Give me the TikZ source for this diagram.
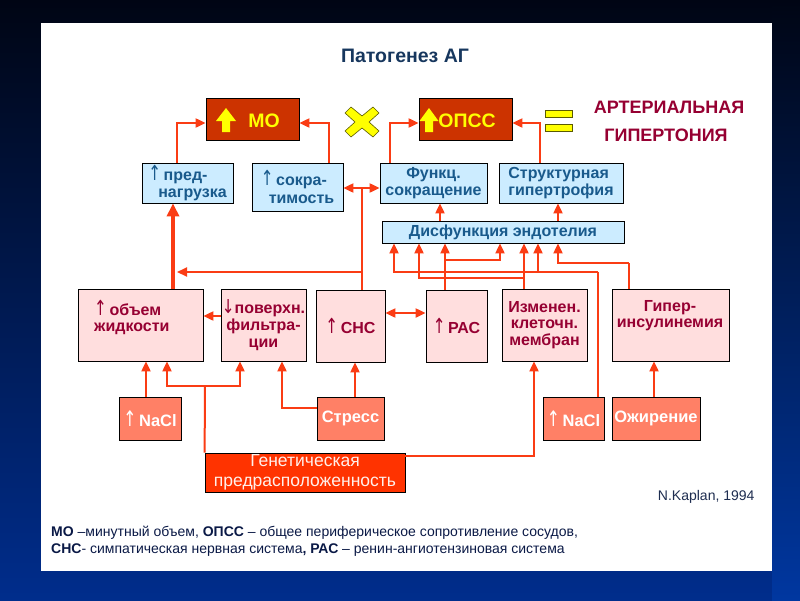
\documentclass[tikz,border=0pt]{standalone}
\usepackage{graphicx}
\usepackage{fontspec}
\setmainfont{Liberation Sans}
\newfontfamily\arrfont{DejaVu Sans}
\newcommand{\uparr}{{\mdseries\arrfont\scalebox{0.95}[1.3]{↑}}}
\newcommand{\dnarr}{{\mdseries\arrfont\scalebox{0.95}[1.2]{↓}}}
\usetikzlibrary{arrows.meta}
\definecolor{cr}{RGB}{250,60,20}
\definecolor{mored}{RGB}{204,51,0}
\definecolor{yel}{RGB}{255,255,0}
\definecolor{lblue}{RGB}{204,236,255}
\definecolor{btext}{RGB}{25,90,140}
\definecolor{pinkf}{RGB}{255,222,222}
\definecolor{ptext}{RGB}{150,0,50}
\definecolor{salmon}{RGB}{255,128,102}
\definecolor{genred}{RGB}{255,51,0}
\definecolor{titleblue}{RGB}{23,55,94}
\definecolor{foottext}{RGB}{10,25,70}
\definecolor{bgtop}{RGB}{0,5,20}
\definecolor{bgbot}{RGB}{0,45,140}
\begin{document}
\begin{tikzpicture}[x=1pt,y=-1pt,
  conn/.style={draw=cr, line width=2pt},
  arr/.style={conn, -{Triangle[length=10pt,width=9pt]}},
  tharr/.style={draw=cr, line width=3.5pt, -{Triangle[length=13pt,width=12pt]}},
  darr/.style={conn, {Triangle[length=10pt,width=9pt]}-{Triangle[length=10pt,width=9pt]}},
  bbox/.style={draw=black, line width=0.8pt, fill=lblue, inner sep=0pt, text=btext,
    font=\fontsize{16}{17.5}\selectfont\bfseries},
  pbox/.style={draw=black, line width=0.8pt, fill=pinkf, inner sep=0pt, text=ptext,
    font=\fontsize{16}{16.5}\selectfont\bfseries, align=center},
  ptxt/.style={text=ptext, font=\fontsize{16}{16}\selectfont\bfseries, inner sep=0pt},
  sbox/.style={draw=black, line width=0.8pt, fill=salmon, inner sep=0pt, text=white,
    font=\fontsize{16.5}{18}\selectfont\bfseries},
  rbox/.style={draw=black, line width=0.8pt, fill=mored, inner sep=0pt},
  ytxt/.style={text=yel, font=\fontsize{19.5}{20}\selectfont\bfseries, inner sep=0pt}
]
\useasboundingbox (0,0) rectangle (800,600);
% background
\shade[top color=bgtop, bottom color=bgbot] (0,0) rectangle (800,600);
\shade[top color=bgtop, bottom color={rgb,255:red,0;green,55;blue,160}] (772,0) rectangle (800,600);
\fill[white] (41,23) rectangle (772,571);

% title
\node[font=\fontsize{19.5}{22}\selectfont\bfseries, text=titleblue] (title) at (405,56) {Патогенез АГ};

% top row
\node[rbox, minimum width=93pt, minimum height=42pt] (mo) at (252.5,119) {};
\node[rbox, minimum width=93pt, minimum height=42pt] (opss) at (465.5,119) {};
\fill[yel] (222,132) -- (222,121) -- (216,121) -- (226,108) -- (236,121) -- (230,121) -- (230,132) -- cycle;
\node[ytxt] (mot) at (264,121) {МО};
\fill[yel] (425,132) -- (425,121) -- (419.5,121) -- (429,108) -- (438.5,121) -- (433,121) -- (433,132) -- cycle;
\node[ytxt] (opsst) at (467,121) {ОПСС};

% multiply sign
\filldraw[fill=yel, draw={rgb,255:red,90;green,90;blue,0}, line width=0.6pt]
  (345,113) -- (351,107) -- (362,116) -- (373,107) -- (379,113) -- (369,122)
  -- (379,131) -- (373,137) -- (362,128) -- (351,137) -- (345,131) -- (355,122) -- cycle;
% equals sign
\filldraw[fill=yel, draw={rgb,255:red,90;green,90;blue,0}, line width=0.6pt] (545,110) rectangle (572,117);
\filldraw[fill=yel, draw={rgb,255:red,90;green,90;blue,0}, line width=0.6pt] (545,124) rectangle (572,131);

\node[font=\fontsize{18}{20}\selectfont\bfseries, text=ptext] (ag1) at (669,107) {АРТЕРИАЛЬНАЯ};
\node[font=\fontsize{18}{20}\selectfont\bfseries, text=ptext] (ag2) at (666,135) {ГИПЕРТОНИЯ};

% second row (blue)
\node[bbox, minimum width=91pt, minimum height=40pt, align=left] (pred) at (187.5,183)
  {\uparr\,пред-\\\hspace*{10pt}нагрузка};
\node[bbox, minimum width=91pt, minimum height=48pt, align=left] (sokr) at (297.5,187)
  {\uparr\,сокра-\\\hspace*{8pt}тимость};
\node[bbox, minimum width=107pt, minimum height=40pt, align=center] (funk) at (433.5,183)
  {Функц.\\сокращение};
\node[bbox, minimum width=124pt, minimum height=40pt, align=left] (struct) at (561,183)
  {Структурная\\гипертрофия};
\node[bbox, minimum width=242pt, minimum height=22pt] (disf) at (503,232)
  {Дисфункция эндотелия};

% third row (pink)
\node[pbox, minimum width=125pt, minimum height=72pt] (obj) at (140.5,325) {};
\node[ptxt, anchor=west, align=left] (objt) at (94,317) {\uparr\,объем\\жидкости};
\node[pbox, minimum width=85pt, minimum height=72pt, font=\fontsize{16}{17}\selectfont\bfseries] (poverh) at (263.5,325)
  {\dnarr поверхн.\\фильтра-\\ции};
\node[pbox, minimum width=69pt, minimum height=72pt] (snc) at (350.5,326) {\uparr\,СНС};
\node[pbox, minimum width=61pt, minimum height=72pt] (ras) at (456.5,326) {\uparr\,РАС};
\node[pbox, minimum width=85pt, minimum height=72pt] (izm) at (544.5,325)
  {Изменен.\\клеточн.\\мембран};
\node[pbox, minimum width=117pt, minimum height=72pt] (gip) at (670.5,325) {};
\node[ptxt, align=center] (gipt) at (670,316) {Гипер-\\инсулинемия};

% bottom row
\node[sbox, minimum width=62pt, minimum height=43pt] (nacl1) at (150,418.5) {\uparr\,NaCl};
\node[sbox, minimum width=67pt, minimum height=43pt] (stress) at (350.5,418.5) {Стресс};
\node[sbox, minimum width=61pt, minimum height=43pt] (nacl2) at (573.5,418.5) {\uparr\,NaCl};
\node[sbox, minimum width=88pt, minimum height=43pt] (ozh) at (656,418.5) {Ожирение};
\node[draw=black, line width=0.8pt, fill=genred, inner sep=0pt, minimum width=200pt,
  minimum height=39pt, text={rgb,255:red,255;green,240;blue,235},
  font=\fontsize{17.5}{20}\selectfont, align=center] (gen) at (305,472.5)
  {Генетическая\\предрасположенность};

\node[anchor=east, text={rgb,255:red,30;green,45;blue,80}, font=\fontsize{14}{16}\selectfont] (kap) at (758,497) {N.Kaplan, 1994};

\node[anchor=north west, align=left, text=foottext, font=\fontsize{14}{17}\selectfont, inner sep=0pt] (foot) at (51,526)
  {\textbf{МО} –минутный объем, \textbf{ОПСС} – общее периферическое сопротивление сосудов,\\
   \textbf{СНС}- симпатическая нервная система\textbf{,} \textbf{РАС} – ренин-ангиотензиновая система};

% connectors to top row
\draw[arr] (177,0 |- pred.north) |- ([yshift=-4pt]mo.west);
\draw[arr] (329,0 |- sokr.north) |- ([yshift=-4pt]mo.east);
\draw[arr] (390,0 |- funk.north) |- ([yshift=-4pt]opss.west);
\draw[arr] (540,0 |- struct.north) |- ([yshift=-4pt]opss.east);
\draw[arr] (440,0 |- disf.north) -- (440,0 |- funk.south);
\draw[arr] (558,0 |- disf.north) -- (558,0 |- struct.south);
\draw[tharr] (173,0 |- obj.north) -- (173,0 |- pred.south);

% SNS
\coordinate (j1) at (362,188);
\coordinate (j2) at (362,272);
\draw[conn] (362,0 |- snc.north) -- (j1);
\draw[arr] (j1) -- (sokr.east |- j1);
\draw[arr] (j1) -- (funk.west |- j1);
\draw[arr] (j2) -- (177,272);

% middle row links
\draw[arr] (poverh.west |- 0,316) -- (obj.east |- 0,316);
\draw[darr] (snc.east |- 0,313) -- (ras.west |- 0,313);

% bottom links
\draw[arr] (146,0 |- nacl1.north) -- (146,0 |- obj.south);
\coordinate (j3) at (205,386);
\draw[conn] (gen.north west) -- (j3);
\draw[arr] (j3) -| (167,0 |- obj.south);
\draw[arr] (j3) -| (240,0 |- poverh.south);
\draw[arr] (stress.west |- 0,408) -| (282,0 |- poverh.south);
\draw[arr] (355,0 |- stress.north) -- (355,0 |- snc.south);
\draw[arr] (gen.east |- 0,456) -| (534,0 |- izm.south);
\draw[arr] (654,0 |- ozh.north) -- (654,0 |- gip.south);

% into endothelial dysfunction
\coordinate (j4) at (598,272);
\draw[conn] (598,0 |- nacl2.north) -- (j4);
\draw[arr] (j4) -| (394,0 |- disf.south);
\coordinate (j5) at (538,272);
\draw[arr] (j5) -- (538,0 |- disf.south);
\coordinate (j6) at (445,260);
\draw[arr] (445,0 |- ras.north) -- (445,0 |- disf.south);
\draw[arr] (j6) -| (500,0 |- disf.south);
\coordinate (j7) at (524,278);
\draw[arr] (524,0 |- izm.north) -- (524,0 |- disf.south);
\draw[arr] (j7) -| (419,0 |- disf.south);
\coordinate (j8) at (629,263);
\draw[conn] (629,0 |- gip.north) -- (j8);
\draw[arr] (j8) -| (558,0 |- disf.south);
\end{tikzpicture}
\end{document}
